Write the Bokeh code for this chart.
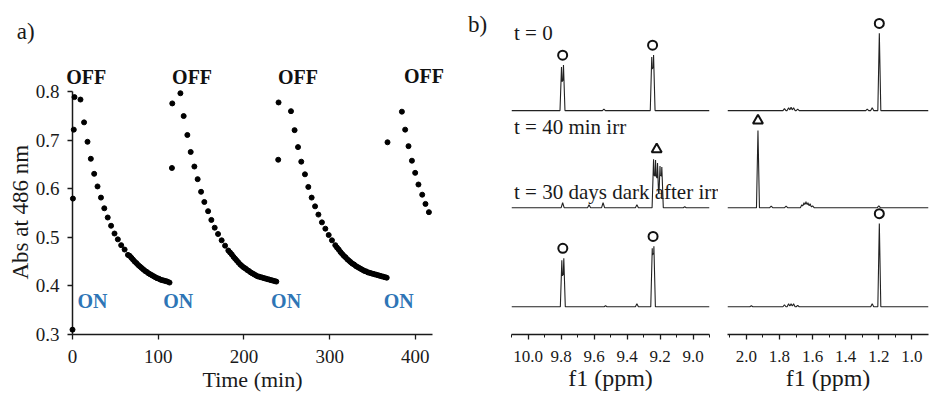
import numpy as np
from bokeh.plotting import figure
from bokeh.models import Range1d, FixedTicker, PrintfTickFormatter
from bokeh.core.properties import value
from bokeh.layouts import row
from bokeh.embed import file_html
from bokeh.resources import INLINE

FONT = "Liberation Serif"
INK = "#1a1a1a"
BLUE = "#2e75b6"

# ---------------- panel a data ----------------
t1 = [0, 0.5, 1.5, 2.3, 9.3, 13.5, 17.5, 21.4, 25.3, 29.2, 33.2, 37.1, 41.1, 45.0, 49.0, 52.9, 56.8,
      60.8, 64.7, 66.7, 68.7, 70.7, 72.7, 74.7, 76.7, 78.7, 80.7, 82.7, 84.7, 86.7, 88.7, 90.7, 92.7,
      94.7, 96.7, 98.7, 100.7, 102.7, 104.7, 106.7, 108.7, 110.7, 113.2]
a1 = [0.310, 0.580, 0.722, 0.789, 0.784, 0.737, 0.697, 0.662, 0.631, 0.605, 0.582, 0.560, 0.541,
      0.524, 0.508, 0.496, 0.484, 0.475, 0.464, 0.462, 0.458, 0.454, 0.450, 0.447, 0.443, 0.440,
      0.437, 0.434, 0.431, 0.429, 0.426, 0.424, 0.422, 0.420, 0.418, 0.416, 0.415, 0.413, 0.412,
      0.411, 0.410, 0.409, 0.407]
t2 = [116.0, 116.4, 125.9, 129.7, 134.0, 137.9, 142.2, 146.0, 150.0, 153.8, 158.2, 162.0, 165.9,
      169.8, 174.0, 178.0, 181.8, 183.8, 185.8, 187.8, 189.8, 191.8, 193.8, 195.8, 197.8, 199.8,
      201.8, 203.8, 205.8, 207.8, 209.8, 211.8, 213.8, 215.8, 217.8, 219.8, 221.8, 223.8, 225.8,
      227.8, 229.8, 231.8, 233.8, 235.8, 237.8]
a2 = [0.643, 0.776, 0.797, 0.750, 0.711, 0.676, 0.646, 0.620, 0.594, 0.573, 0.554, 0.536, 0.520,
      0.507, 0.494, 0.483, 0.473, 0.469, 0.465, 0.460, 0.456, 0.452, 0.448, 0.444, 0.441, 0.438,
      0.436, 0.433, 0.431, 0.428, 0.426, 0.424, 0.422, 0.420, 0.419, 0.418, 0.417, 0.416, 0.415,
      0.414, 0.413, 0.412, 0.411, 0.410, 0.409]
t3 = [240.0, 240.4, 254.9, 259.1, 263.1, 266.9, 271.2, 275.1, 279.0, 283.0, 286.9, 291.0, 295.0,
      298.9, 302.7, 306.6, 308.6, 310.6, 312.6, 314.6, 316.6, 318.6, 320.6, 322.6, 324.6, 326.6,
      328.6, 330.6, 332.6, 334.6, 336.6, 338.6, 340.6, 342.6, 344.6, 346.6, 348.6, 350.6, 352.6,
      354.6, 356.6, 358.6, 360.6, 362.6, 364.6, 366.6]
a3 = [0.660, 0.778, 0.760, 0.721, 0.686, 0.656, 0.630, 0.604, 0.582, 0.564, 0.547, 0.531, 0.518,
      0.505, 0.494, 0.484, 0.479, 0.475, 0.470, 0.466, 0.462, 0.459, 0.455, 0.452, 0.449, 0.446,
      0.444, 0.441, 0.439, 0.437, 0.435, 0.433, 0.431, 0.430, 0.428, 0.427, 0.426, 0.425, 0.424,
      0.423, 0.422, 0.421, 0.420, 0.419, 0.418, 0.417]
t4 = [367.5, 384.3, 388.1, 392.0, 396.0, 399.8, 403.6, 408.0, 411.8, 415.8]
a4 = [0.696, 0.759, 0.722, 0.688, 0.658, 0.633, 0.609, 0.588, 0.569, 0.552]

x_ticks_a = [0, 100, 200, 300, 400]
y_ticks_a = [0.3, 0.4, 0.5, 0.6, 0.7, 0.8]

off_t = [16, 139.5, 263, 410]
off_y = [0.83, 0.83, 0.83, 0.833]
on_t = [23.3, 123.3, 249.2, 380.5]
on_y = [0.368, 0.368, 0.368, 0.368]

# ---------------- panel b data (ppm, intensity) ----------------
peaks_t0_low = [(9.797, 44), (9.785, 46), (9.54, 1.5), (9.250, 54), (9.239, 56)]
peaks_t0_high = [(1.77, 2), (1.745, 3), (1.73, 3.5), (1.715, 3), (1.69, 1.5),
                 (1.27, 1.5), (1.24, 3), (1.197, 78)]
peaks_irr_low = [(9.79, 5), (9.63, 3), (9.545, 5), (9.34, 3), (9.239, 49), (9.227, 48),
                 (9.215, 45), (9.200, 42), (9.189, 41), (9.05, 1)]
peaks_irr_high = [(1.93, 78), (1.85, 1.5), (1.76, 1.5), (1.665, 3), (1.652, 5), (1.64, 6),
                  (1.628, 5), (1.615, 4), (1.60, 2), (1.20, 2)]
peaks_dark_low = [(9.795, 47), (9.783, 49), (9.53, 1), (9.34, 3), (9.247, 59), (9.237, 61)]
peaks_dark_high = [(1.97, 1), (1.77, 2), (1.745, 3), (1.73, 3), (1.715, 3), (1.69, 1.5),
                   (1.24, 3), (1.197, 84)]

marks_t0_low = [(9.79, "circle"), (9.245, "circle")]
marks_t0_high = [(1.197, "circle")]
marks_irr_low = [(9.22, "triangle")]
marks_irr_high = [(1.93, "triangle")]
marks_dark_low = [(9.789, "circle"), (9.242, "circle")]
marks_dark_high = [(1.197, "circle")]

low_ticks = [10.0, 9.8, 9.6, 9.4, 9.2, 9.0]
low_minor = [10.1, 9.9, 9.7, 9.5, 9.3, 9.1, 8.9]
high_ticks = [2.0, 1.8, 1.6, 1.4, 1.2, 1.0]
high_minor = [2.1, 1.9, 1.7, 1.5, 1.3, 1.1]

trace_labels = ["t = 0", "t = 40 min irr", "t = 30 days dark  after irr"]

# layout constants (vertical stacking of the spectra, in frame pixels)
OFFSETS = [226, 128, 28]
LABEL_Y = [304, 209, 144]
H = 394
TOP = 15
BOTTOM = 57
FRAME_H = H - TOP - BOTTOM  # 322


def style_axis(ax, tick_size="19px", label_size="22px"):
    ax.axis_line_color = INK
    ax.axis_line_width = 1.5
    ax.major_tick_line_color = INK
    ax.major_tick_line_width = 1.3
    ax.major_tick_out = 5
    ax.major_tick_in = 0
    ax.major_label_text_font = FONT
    ax.major_label_text_font_size = tick_size
    ax.major_label_text_color = INK
    ax.major_label_standoff = 10
    ax.axis_label_text_font = FONT
    ax.axis_label_text_font_size = label_size
    ax.axis_label_text_font_style = "normal"
    ax.axis_label_text_color = INK
    ax.axis_label_standoff = 1


def base_fig(width, xr, yr, **kw):
    p = figure(width=width, height=H, x_range=xr, y_range=yr, output_backend="svg",
               toolbar_location=None, min_border_top=TOP, min_border_bottom=BOTTOM, **kw)
    p.outline_line_color = None
    p.xgrid.visible = False
    p.ygrid.visible = False
    p.background_fill_color = "white"
    p.border_fill_color = "white"
    return p


def overlay_text(p, xs, ys, texts, size, color=INK, style="normal", align="left", angle=0.0):
    p.text(x=xs, y=ys, text=texts, text_font=value(FONT), text_font_size=size,
           text_font_style=style, text_color=color, text_align=align, angle=angle,
           text_baseline="middle", level="overlay")


# ---------------- panel a ----------------
y_top_a = 0.3 + 0.5 * FRAME_H / 245.0
pa = base_fig(460, Range1d(0, 420), Range1d(0.3, y_top_a),
              min_border_left=72, min_border_right=28)
for tt, aa in [(t1, a1), (t2, a2), (t3, a3), (t4, a4)]:
    pa.scatter(tt, aa, size=5, color="black", level="overlay")
pa.xaxis.ticker = FixedTicker(ticks=x_ticks_a)
pa.yaxis.ticker = FixedTicker(ticks=y_ticks_a)
pa.yaxis.formatter = PrintfTickFormatter(format="%.1f")
pa.yaxis.bounds = (0.3, 0.8)
pa.xaxis.axis_label = "Time (min)"
for ax in (pa.xaxis[0], pa.yaxis[0]):
    style_axis(ax)
    ax.minor_tick_line_color = None
pa.yaxis.major_label_standoff = 8

overlay_text(pa, [-61], [0.552], ["Abs at 486 nm"], "23px", align="center", angle=np.pi / 2)
overlay_text(pa, off_t, off_y, ["OFF"] * len(off_t), "20px", color="#111111", style="bold",
             align="center")
overlay_text(pa, on_t, on_y, ["ON"] * len(on_t), "20px", color=BLUE, style="bold",
             align="center")
overlay_text(pa, [-65], [0.925], ["a)"], "23px")


# ---------------- panel b ----------------
def spectrum(peaks, left, right, w):
    xs = {left, right}
    for pp, _ in peaks:
        for d in (-w, 0.0, w):
            xs.add(pp + d)
    xs = sorted([x for x in xs if right <= x <= left], reverse=True)
    ys = [sum(max(0.0, h * (1 - abs(x - pp) / w)) for pp, h in peaks) for x in xs]
    return xs, ys


def nmr_fig(width, lo, hi, ticks, minor, traces, marks, mb_left, mb_right):
    p = base_fig(width, Range1d(lo, hi), Range1d(0, FRAME_H), y_axis_location=None,
                 min_border_left=mb_left, min_border_right=mb_right)
    w = 0.009
    for peaks, mk, off in zip(traces, marks, OFFSETS):
        xs, ys = spectrum(peaks, lo, hi, w)
        p.line(xs, [off + y for y in ys], line_color="#222222", line_width=1.1)
        for ppm, kind in mk:
            top = max(h for pp, h in peaks if abs(pp - ppm) < 0.03)
            p.scatter([ppm], [off + top + 10], marker=kind, size=9 if kind == "circle" else 10,
                      fill_color=None, line_color="#111111", line_width=2, level="overlay")
    p.xaxis.ticker = FixedTicker(ticks=ticks, minor_ticks=minor)
    p.xaxis.formatter = PrintfTickFormatter(format="%.1f")
    p.xaxis.axis_label = "f1 (ppm)"
    style_axis(p.xaxis[0], tick_size="17px", label_size="24px")
    p.xaxis.major_label_standoff = 11
    p.xaxis.axis_label_standoff = 0
    p.xaxis.minor_tick_line_color = INK
    p.xaxis.minor_tick_line_width = 1
    p.xaxis.minor_tick_out = 3
    p.xaxis.minor_tick_in = 0
    return p


pb1 = nmr_fig(258, 10.1, 8.9, low_ticks, low_minor,
              [peaks_t0_low, peaks_irr_low, peaks_dark_low],
              [marks_t0_low, marks_irr_low, marks_dark_low], 51, 9)
pb2 = nmr_fig(213, 2.114, 0.9, high_ticks, high_minor,
              [peaks_t0_high, peaks_irr_high, peaks_dark_high],
              [marks_t0_high, marks_irr_high, marks_dark_high], 9, 3)

overlay_text(pb1, [10.085] * 3, LABEL_Y, trace_labels, "21px")
overlay_text(pb1, [10.364], [313], ["b)"], "23px")

layout = row(pa, pb1, pb2)
open("out.html", "w").write(file_html(layout, INLINE))
